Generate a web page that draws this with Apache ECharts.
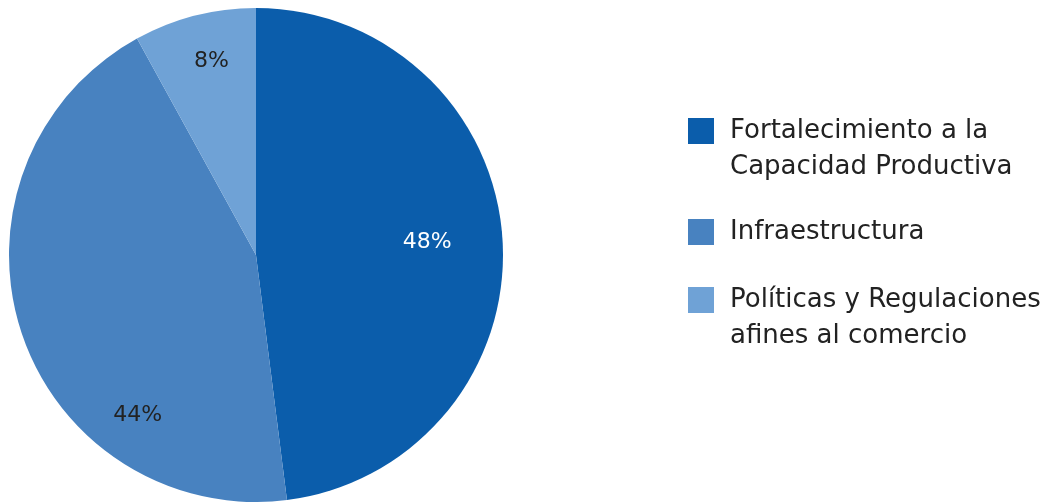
<!DOCTYPE html>
<html>
<head>
<meta charset="utf-8">
<script src="https://cdn.jsdelivr.net/npm/echarts@6/dist/echarts.min.js"></script>
<style>
  html, body { margin: 0; padding: 0; background: #ffffff; }
  #chart { width: 1047px; height: 502px; }
</style>
</head>
<body>
<div id="chart"></div>
<script>
// Distribución por área (porcentajes)
const categories = [
  'Fortalecimiento a la\nCapacidad Productiva',
  'Infraestructura',
  'Políticas y Regulaciones\nafines al comercio'
];
const values = [48, 44, 8];
const colors = ['#0b5dab', '#4882c0', '#6fa2d6'];
const labelColors = ['#ffffff', '#222222', '#222222'];
const labelOffsets = [[45, -5], [2, 121], [-13, -71]];

const FONT = '"DejaVu Sans", sans-serif';
const LINE_H = 36;

const chart = echarts.init(document.getElementById('chart'), null, { renderer: 'canvas' });

// one legend per entry; multi-line names get blank lines on top so the
// marker lines up with the first line of text
const legendTops = [77, 214, 246];
const legends = categories.map((name, i) => {
  const extra = name.split('\n').length - 1;
  return {
    show: true,
    orient: 'vertical',
    left: 688,
    top: legendTops[i],
    padding: 0,
    itemWidth: 26,
    itemHeight: 26,
    itemGap: 0,
    selectedMode: false,
    icon: 'rect',
    data: [name],
    formatter: n => '\n'.repeat(extra) + n,
    textStyle: {
      fontFamily: FONT,
      fontSize: 26,
      color: '#222222',
      lineHeight: LINE_H,
      padding: [0, 0, 0, 11]
    }
  };
});

chart.setOption({
  animation: false,
  color: colors,
  legend: legends,
  series: [{
    type: 'pie',
    center: [256, 255],
    radius: 247,
    startAngle: 90,
    clockwise: true,
    silent: true,
    label: {
      show: true,
      position: 'inside',
      fontFamily: FONT,
      fontSize: 22,
      formatter: '{c}%'
    },
    labelLine: { show: false },
    itemStyle: { borderWidth: 0 },
    data: categories.map((name, i) => ({
      name: name,
      value: values[i],
      itemStyle: { color: colors[i] },
      label: { color: labelColors[i], offset: labelOffsets[i] }
    }))
  }]
});
</script>
</body>
</html>
